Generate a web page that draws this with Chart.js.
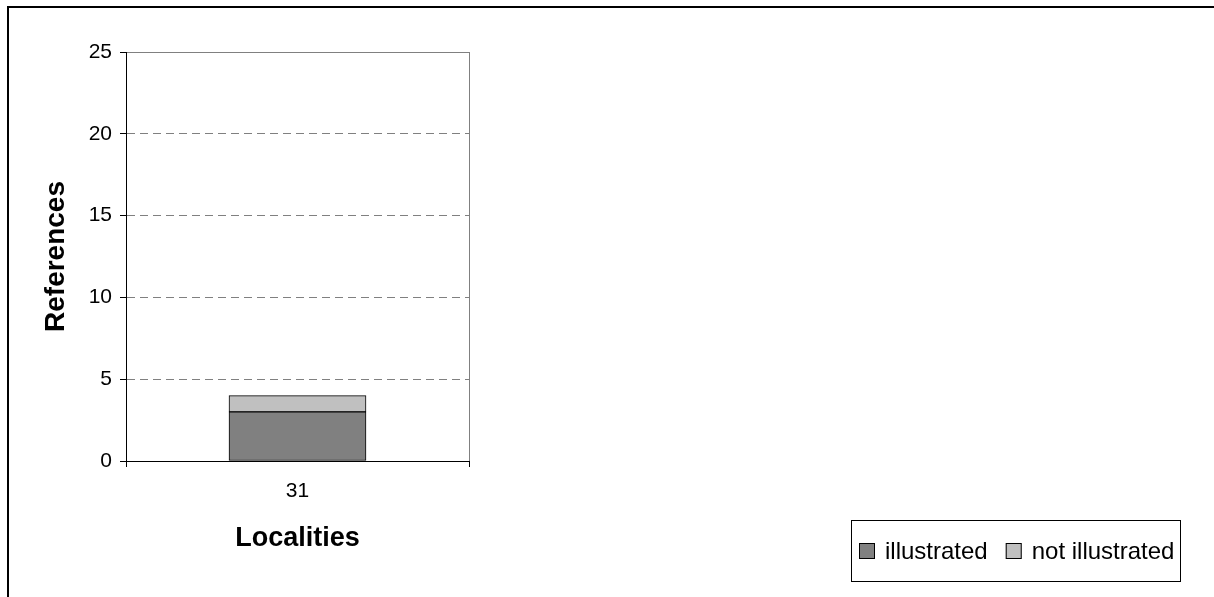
<!DOCTYPE html>
<html>
<head>
<meta charset="utf-8">
<script src="https://cdn.jsdelivr.net/npm/chart.js@4/dist/chart.umd.min.js"></script>
<style>
  html, body { margin: 0; padding: 0; background: #fff; }
  canvas { display: block; }
</style>
</head>
<body>
<canvas id="grafico" width="1214" height="597"></canvas>
<script>
// data
const localities = ["31"];
const illustrated = [3];
const notIllustrated = [1];
const yTicks = [0, 5, 10, 15, 20, 25];

const FONT = "'Liberation Sans', Arial, sans-serif";

// white page + outer frame
const frame = {
  id: "frame",
  beforeDraw(chart) {
    const ctx = chart.ctx;
    ctx.save();
    ctx.fillStyle = "#fff";
    ctx.fillRect(0, 0, chart.width, chart.height);
    ctx.strokeStyle = "#000";
    ctx.lineWidth = 2;
    ctx.strokeRect(8, 7, chart.width, chart.height);
    ctx.restore();
  }
};

// boxed legend, bottom right
const boxLegend = {
  id: "boxLegend",
  afterDraw(chart) {
    const ctx = chart.ctx;
    const sets = chart.data.datasets;
    ctx.save();
    ctx.strokeStyle = "#000";
    ctx.lineWidth = 1;
    ctx.strokeRect(851.5, 520.5, 329, 61);
    ctx.font = "24px " + FONT;
    ctx.textBaseline = "middle";
    let x = 859;
    const y = 551;
    sets.forEach(ds => {
      ctx.fillStyle = ds.backgroundColor;
      ctx.fillRect(x, y - 8, 16, 16);
      ctx.strokeRect(x + 0.5, y - 7.5, 15, 15);
      ctx.fillStyle = "#000";
      ctx.fillText(ds.label, x + 26, y + 1);
      x += 26 + ctx.measureText(ds.label).width + 18;
    });
    ctx.restore();
  }
};

new Chart(document.getElementById("grafico"), {
  type: "bar",
  data: {
    labels: localities,
    datasets: [
      {
        label: "illustrated",
        data: illustrated,
        backgroundColor: "#808080",
        borderColor: "#000",
        borderWidth: 1,
        borderSkipped: false,
        barThickness: 137,
      },
      {
        label: "not illustrated",
        data: notIllustrated,
        backgroundColor: "#c0c0c0",
        borderColor: "#000",
        borderWidth: 1,
        borderSkipped: false,
        barThickness: 137,
      }
    ]
  },
  options: {
    responsive: false,
    animation: false,
    devicePixelRatio: 1,
    layout: { padding: { left: 8, top: 52, right: 745, bottom: 0 } },
    plugins: {
      legend: { display: false },
      tooltip: { enabled: false },
    },
    scales: {
      x: {
        stacked: true,
        afterFit: s => { s.height = 136; },
        grid: {
          offset: true,
          color: c => c.index === 0 ? "rgba(0,0,0,0)" : "#808080",
          tickColor: "#000",
          tickLength: 6,
        },
        border: { color: "#000", width: 1 },
        ticks: { color: "#000", font: { family: FONT, size: 21 }, padding: 12 },
        title: {
          display: true,
          text: "Localities",
          color: "#000",
          font: { family: FONT, size: 27, weight: "bold" },
          padding: { top: 0, bottom: 42 },
        },
      },
      y: {
        stacked: true,
        min: 0,
        max: 25,
        afterFit: s => { s.width = 118; },
        afterBuildTicks: s => { s.ticks = yTicks.map(v => ({ value: v })); },
        grid: {
          color: c => c.tick && c.tick.value === 0 ? "rgba(0,0,0,0)" : "#808080",
          tickColor: "#000",
          tickLength: 6,
        },
        border: {
          color: "#000",
          width: 1,
          dash: c => c.tick && c.tick.value === 25 ? [] : [8, 5],
        },
        ticks: { color: "#000", font: { family: FONT, size: 21 }, padding: 8 },
        title: {
          display: true,
          text: "References",
          color: "#000",
          font: { family: FONT, size: 28, weight: "bold" },
          padding: { top: 31, bottom: 0 },
        },
      }
    }
  },
  plugins: [frame, boxLegend]
});
</script>
</body>
</html>
